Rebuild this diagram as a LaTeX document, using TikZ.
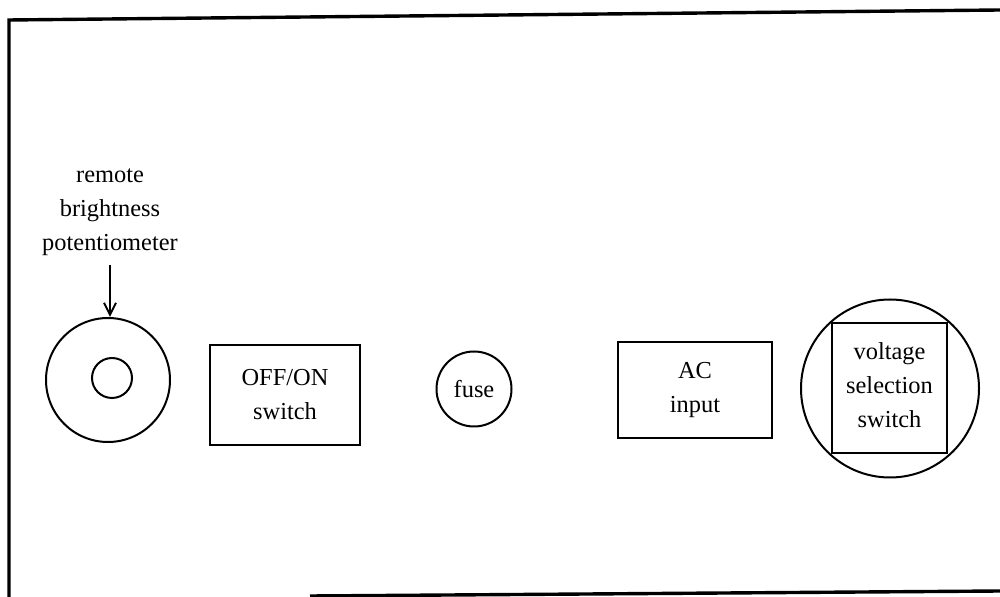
\documentclass[tikz,border=0pt]{standalone}
\usepackage{fontspec}
\setmainfont{Liberation Serif}
\usetikzlibrary{arrows.meta}
\begin{document}
\begin{tikzpicture}[x=0.5pt,y=-0.5pt,
  frame/.style={line width=1.7pt},
  part/.style={draw,line width=1pt,inner sep=0pt},
  lbl/.style={align=center,inner sep=0pt,font=\fontsize{12.2}{17}\selectfont}]
\useasboundingbox (0,0) rectangle (1000,597);
% panel outline
\draw[frame] (9,597) -- (9,20) -- (1000,10);
\draw[frame] (310,596) -- (1000,591);
% remote brightness potentiometer
\node[lbl] (potlbl) at (110,212) {remote\\brightness\\potentiometer};
\node[part,circle,minimum size=62pt] (pot) at (108,380) {};
\node[part,circle,minimum size=20pt] (knob) at (112,378) {};
\draw[line width=1pt,-{Straight Barb[length=6pt,width=6pt]}] ([yshift=-4.5pt]potlbl.south) -- (potlbl.south |- pot.north);
% OFF/ON switch
\node[part,rectangle,minimum width=75pt,minimum height=50pt] (sw) at (285,395) {};
\node[lbl] (swlbl) at (sw.center) {OFF/ON\\switch};
% fuse
\node[part,circle,minimum size=37.5pt] (fuse) at (474,389) {};
\node[lbl] (fuselbl) at (fuse.center) {fuse};
% AC input
\node[part,rectangle,minimum width=77pt,minimum height=48pt] (ac) at (695,390) {};
\node[lbl] (aclbl) at (ac.center) {AC\\input};
% voltage selection switch
\node[part,circle,minimum size=89pt] (vc) at (890,388.5) {};
\node[part,rectangle,minimum width=57.5pt,minimum height=65pt] (vsq) at (889.5,388) {};
\node[lbl] (vlbl) at (889.5,385) {voltage\\selection\\switch};
\end{tikzpicture}
\end{document}
